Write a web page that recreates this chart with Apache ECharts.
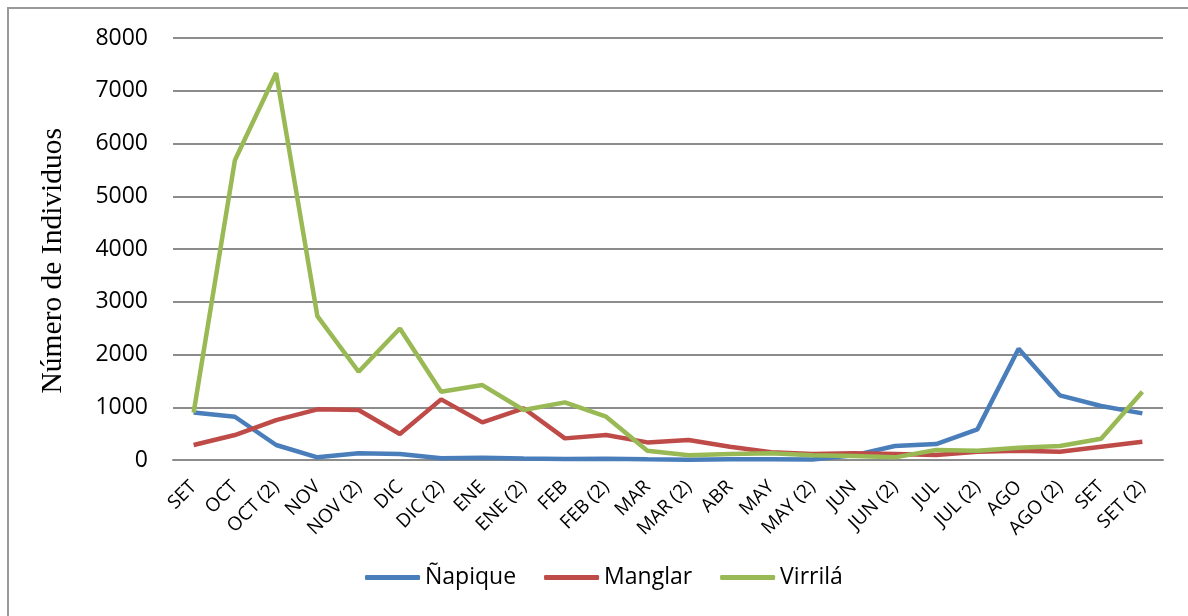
<!DOCTYPE html>
<html>
<head>
<meta charset="utf-8">
<script src="https://cdn.jsdelivr.net/npm/echarts@6/dist/echarts.min.js"></script>
<style>
  html, body { margin: 0; padding: 0; background: #fff; }
  #wrap { position: relative; width: 1188px; height: 616px; overflow: hidden; }
  #frame { position: absolute; left: 7px; top: 7px; width: 1200px; height: 640px;
           border-left: 2px solid #999; border-top: 2px solid #999; box-sizing: border-box; }
  #chart { position: absolute; left: 0; top: 0; width: 1188px; height: 616px; }
</style>
</head>
<body>
<div id="wrap">
  <div id="frame"></div>
  <div id="chart"></div>
</div>
<script>
// meses de muestreo
const categories = ['SET', 'OCT', 'OCT (2)', 'NOV', 'NOV (2)', 'DIC', 'DIC (2)', 'ENE', 'ENE (2)',
  'FEB', 'FEB (2)', 'MAR', 'MAR (2)', 'ABR', 'MAY', 'MAY (2)', 'JUN', 'JUN (2)', 'JUL', 'JUL (2)',
  'AGO', 'AGO (2)', 'SET', 'SET (2)'];

const napique = [900, 820, 284, 50, 126, 114, 32, 44, 30, 20, 25, 13, 5, 13, 13, 10, 88, 265, 303, 581, 2109, 1225, 1023, 884];
const manglar = [284, 473, 757, 960, 947, 492, 1149, 713, 980, 410, 473, 334, 379, 253, 145, 114, 126, 114, 95, 158, 177, 158, 253, 347];
const virrila = [896, 5682, 7335, 2727, 1673, 2494, 1294, 1420, 947, 1092, 821, 177, 88, 114, 126, 88, 76, 50, 189, 177, 234, 265, 404, 1294];

const seriesNames = ['Ñapique', 'Manglar', 'Virrilá'];
const colors = ['#4A7EBB', '#BE4B48', '#98B954'];

const chart = echarts.init(document.getElementById('chart'));

const option = {
  animation: false,
  color: colors,
  grid: { left: 173, right: 25, top: 38, bottom: 156 },
  legend: {
    left: 365,
    top: 566,
    padding: 0,
    icon: 'roundRect',
    itemWidth: 55,
    itemHeight: 5,
    itemGap: 28,
    textStyle: { fontFamily: 'Open Sans', fontSize: 23, color: '#000' },
    data: seriesNames
  },
  xAxis: {
    type: 'category',
    data: categories,
    boundaryGap: true,
    axisLine: { show: true, lineStyle: { color: '#8c8c8c', width: 2 } },
    axisTick: { show: false },
    axisLabel: {
      interval: 0,
      rotate: 45,
      margin: 24,
      fontFamily: 'Open Sans',
      fontSize: 19,
      color: '#000'
    }
  },
  yAxis: {
    type: 'value',
    min: 0,
    max: 8000,
    interval: 1000,
    axisLine: { show: false },
    axisTick: { show: false },
    axisLabel: {
      margin: 25,
      fontFamily: 'Open Sans',
      fontSize: 23,
      color: '#000',
      formatter: v => String(v)
    },
    splitLine: { lineStyle: { color: '#8c8c8c', width: 2 } }
  },
  graphic: [{
    type: 'text',
    left: 38,
    top: 128,
    rotation: Math.PI / 2,
    style: {
      text: 'Número de Individuos',
      font: '29.5px "Liberation Serif", "Times New Roman", serif',
      fill: '#000'
    }
  }],
  series: [
    { name: seriesNames[0], type: 'line', data: napique, symbol: 'none', lineStyle: { width: 4.5 } },
    { name: seriesNames[1], type: 'line', data: manglar, symbol: 'none', lineStyle: { width: 4.5 } },
    { name: seriesNames[2], type: 'line', data: virrila, symbol: 'none', lineStyle: { width: 4.5 } }
  ]
};

chart.setOption(option);
</script>
</body>
</html>
